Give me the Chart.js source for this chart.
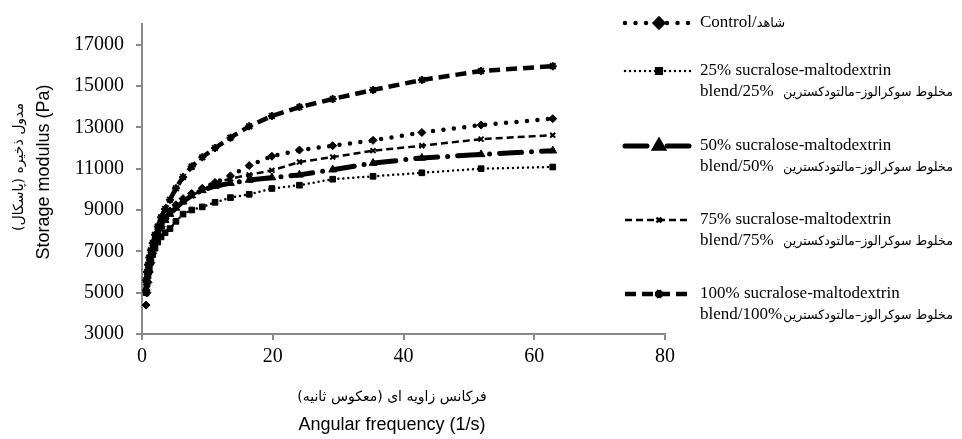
<!DOCTYPE html>
<html lang="en">
<head>
<meta charset="UTF-8">
<title>Storage modulus</title>
<script src="https://cdn.jsdelivr.net/npm/chart.js"></script>
<style>
  body { margin: 0; background: #fff; }
  #wrap { width: 962px; height: 439px; }
</style>
</head>
<body>
<div id="wrap"><canvas id="chart" width="962" height="439"></canvas></div>
<script>
// angular frequency (rad/s)
const freq = [0.628, 0.761, 0.922, 1.117, 1.353, 1.64, 1.99, 2.41, 2.92, 3.53, 4.28, 5.19,
              6.28, 7.61, 9.22, 11.17, 13.53, 16.4, 19.87, 24.08, 29.17, 35.34, 42.81, 51.87, 62.83];

const control = [4400, 5000, 5500, 6000, 6450, 6900, 7350, 7800, 8200, 8600, 8950, 9250,
                 9550, 9800, 10050, 10330, 10650, 11150, 11600, 11900, 12110, 12370, 12750, 13110, 13420];
const blend25 = [5000, 5400, 5800, 6150, 6500, 6850, 7150, 7450, 7700, 7900, 8100, 8450,
                 8800, 9000, 9150, 9370, 9600, 9760, 10040, 10200, 10490, 10630, 10800, 11000, 11080];
const blend50 = [5200, 5600, 6000, 6400, 6800, 7150, 7500, 7850, 8200, 8500, 8800, 9100,
                 9400, 9700, 9950, 10150, 10300, 10450, 10570, 10700, 10950, 11270, 11520, 11690, 11870];
const blend75 = [5300, 5700, 6100, 6500, 6900, 7250, 7600, 7950, 8300, 8600, 8900, 9150,
                 9400, 9700, 9970, 10290, 10520, 10700, 10920, 11320, 11560, 11870, 12110, 12430, 12620];
const blend100 = [5600, 6000, 6350, 6700, 7050, 7400, 7800, 8200, 8650, 9050, 9500, 10050,
                  10600, 11100, 11550, 12000, 12500, 13050, 13550, 13980, 14370, 14810, 15290, 15730, 15960];

const yTicks = [3000, 5000, 7000, 9000, 11000, 13000, 15000, 17000];
const xTicks = [0, 20, 40, 60, 80];

const seriesNames = ['Control/', '25% sucralose-maltodextrin', '50% sucralose-maltodextrin',
                     '75% sucralose-maltodextrin', '100% sucralose-maltodextrin'];
const seriesBlend = ['', 'blend/25%', 'blend/50%', 'blend/75%', 'blend/100%'];
const controlFa = 'شاهد';
const blendFa = 'مخلوط سوکرالوز–مالتودکسترین';

const serif = '"Liberation Serif", "Times New Roman", serif';
const sans = '"Liberation Sans", Arial, sans-serif';
const arab = '"DejaVu Sans", sans-serif';

function pts(vals) {
    return freq.map((x, i) => ({ x: x, y: vals[i] }));
}

function series(vals, style) {
    return Object.assign({
        data: pts(vals),
        showLine: true,
        borderColor: '#000',
        backgroundColor: '#000',
        pointBackgroundColor: '#000',
        pointBorderColor: '#000',
        tension: 0,
        fill: false
    }, style);
}

const datasets = [
    series(control, { borderWidth: 4.5, borderDash: [0, 10.5], borderCapStyle: 'round',
                      pointStyle: 'rectRot', pointRadius: 4, pointBorderWidth: 1 }),
    series(blend25, { borderWidth: 2.5, borderDash: [0, 5], borderCapStyle: 'round',
                      pointStyle: 'rect', pointRadius: 4, pointBorderWidth: 1 }),
    series(blend50, { borderWidth: 5, borderDash: [22, 10, 0, 10], borderCapStyle: 'round',
                      pointStyle: 'triangle', pointRadius: 4.5, pointBorderWidth: 1 }),
    series(blend75, { borderWidth: 2.5, borderDash: [7, 4], borderCapStyle: 'butt',
                      pointStyle: 'crossRot', pointRadius: 3.5, pointBorderWidth: 2 }),
    series(blend100, { borderWidth: 4.5, borderDash: [11, 6], borderCapStyle: 'butt',
                       pointStyle: 'star', pointRadius: 4, pointBorderWidth: 2 })
];

// legend rows (y of first line)
const legendY = [23, 71, 146, 220, 294];

const decorPlugin = {
    id: 'decor',
    afterDraw(chart) {
        const ctx = chart.ctx;
        ctx.save();
        ctx.fillStyle = '#000';
        ctx.strokeStyle = '#000';

        // y title
        ctx.save();
        ctx.translate(44, 172);
        ctx.rotate(-Math.PI / 2);
        ctx.textAlign = 'center';
        ctx.textBaseline = 'middle';
        ctx.font = '18px ' + sans;
        ctx.fillText('Storage modulus (Pa)', 0, 0);
        ctx.restore();

        ctx.save();
        ctx.translate(19, 167);
        ctx.rotate(-Math.PI / 2);
        ctx.direction = 'rtl';
        ctx.textAlign = 'center';
        ctx.textBaseline = 'middle';
        ctx.font = '14px ' + arab;
        ctx.fillText('مدول ذخیره (پاسکال)', 0, 0, 145);
        ctx.restore();

        // x title
        ctx.textAlign = 'center';
        ctx.textBaseline = 'middle';
        ctx.direction = 'rtl';
        ctx.font = '14px ' + arab;
        ctx.fillText('فرکانس زاویه ای (معکوس ثانیه)', 392, 397, 200);
        ctx.direction = 'ltr';
        ctx.font = '18px ' + sans;
        ctx.fillText('Angular frequency (1/s)', 392, 425);

        // legend
        chart.data.datasets.forEach((ds, i) => {
            const y = legendY[i];
            ctx.save();
            ctx.lineWidth = ds.borderWidth;
            ctx.lineCap = ds.borderCapStyle;
            ctx.setLineDash(ds.borderDash);
            ctx.beginPath();
            ctx.moveTo(625, y);
            ctx.lineTo(691, y);
            ctx.stroke();
            ctx.setLineDash([]);
            Chart.helpers.drawPoint(ctx, {
                pointStyle: ds.pointStyle, radius: ds.pointRadius,
                borderWidth: ds.pointBorderWidth, rotation: 0
            }, 659, y);
            ctx.restore();

            ctx.textAlign = 'left';
            ctx.textBaseline = 'middle';
            ctx.direction = 'ltr';
            ctx.font = '17px ' + serif;
            ctx.fillText(seriesNames[i], 700, y);
            if (i === 0) {
                const w = ctx.measureText(seriesNames[i]).width;
                ctx.font = '13px ' + arab;
                ctx.direction = 'rtl';
                ctx.textAlign = 'right';
                ctx.fillText(controlFa, 700 + w + ctx.measureText(controlFa).width, y + 1);
            } else {
                ctx.fillText(seriesBlend[i], 700, y + 21);
                ctx.font = '13px ' + arab;
                ctx.direction = 'rtl';
                ctx.textAlign = 'right';
                ctx.fillText(blendFa, 953, y + 22, 170);
            }
        });
        ctx.restore();
    }
};

new Chart(document.getElementById('chart'), {
    type: 'scatter',
    data: { datasets: datasets },
    options: {
        responsive: false,
        animation: false,
        events: [],
        layout: { padding: { left: 0, top: 18, right: 297, bottom: 0 } },
        plugins: { legend: { display: false }, tooltip: { enabled: false } },
        scales: {
            x: {
                type: 'linear',
                min: 0,
                max: 80,
                afterBuildTicks: s => { s.ticks = xTicks.map(v => ({ value: v })); },
                afterFit: s => { s.height = 105; },
                grid: { drawOnChartArea: false, drawTicks: true, tickLength: 6, color: '#898989', lineWidth: 2 },
                border: { color: '#898989', width: 2 },
                ticks: { color: '#000', padding: 5, maxRotation: 0, font: { family: serif, size: 20 },
                         callback: v => String(v) }
            },
            y: {
                type: 'linear',
                min: 3000,
                max: 18000,
                afterBuildTicks: s => { s.ticks = yTicks.map(v => ({ value: v })); },
                afterFit: s => { s.width = 142; },
                grid: { drawOnChartArea: false, drawTicks: true, tickLength: 6, color: '#898989', lineWidth: 2 },
                border: { color: '#898989', width: 2 },
                ticks: { color: '#000', padding: 12, font: { family: serif, size: 20 },
                         callback: v => String(v) }
            }
        }
    },
    plugins: [decorPlugin]
});
</script>
</body>
</html>
